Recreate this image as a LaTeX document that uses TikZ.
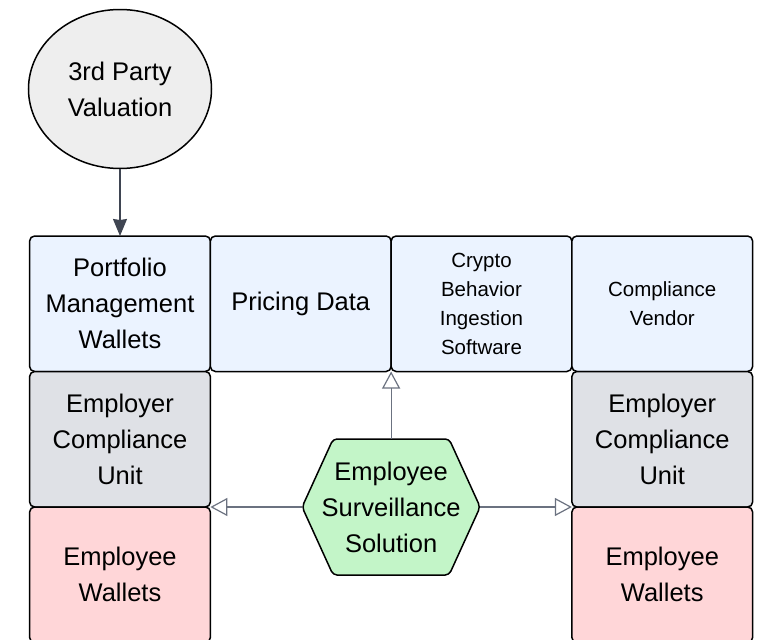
\documentclass[tikz,border=0pt]{standalone}
\usepackage{fontspec}
\setmainfont{Liberation Sans}
\usetikzlibrary{arrows.meta, shapes.geometric, positioning, backgrounds}
\definecolor{recblue}{HTML}{EBF3FF}
\definecolor{recgray}{HTML}{DFE1E6}
\definecolor{recpink}{HTML}{FFD6D8}
\definecolor{hexgreen}{HTML}{C3F5C8}
\definecolor{valgray}{HTML}{EEEEEE}
\definecolor{linegray}{HTML}{6B7280}
\definecolor{headgray}{HTML}{3F4552}
\tikzstyle{rec} = [rectangle, rounded corners=5pt, minimum width=180.75pt, minimum height=135.5pt, text centered, align=center, draw=black, line width=1.5pt, outer sep=0pt, font=\fontsize{25.5}{36}\selectfont]
\tikzstyle{smalltext} = [font=\fontsize{20.5}{29}\selectfont]
\tikzstyle{arrow} = [line width=1.2pt, draw=linegray, -{Triangle[open, length=17pt, width=18pt]}]
\tikzstyle{darrow} = [line width=1.2pt, draw=headgray, -{Stealth[length=17pt, width=14pt, inset=1pt]}]
\tikzstyle{valuation} = [ellipse, minimum width=183pt, minimum height=159pt, text centered, align=center, draw=black, line width=1.5pt, fill=valgray, outer sep=0pt, font=\fontsize{25.5}{36}\selectfont]
\tikzstyle{hexnode} = [rectangle, minimum width=178pt, minimum height=136pt, inner sep=0pt, outer sep=0pt, align=center, font=\fontsize{25.5}{36}\selectfont]
\tikzstyle{hexa} = [draw=black, fill=hexgreen, line width=1.5pt, rounded corners=4pt]

\begin{document}
\begin{tikzpicture}[node distance=0pt]
\useasboundingbox (0,0) rectangle (764pt,-640pt);
\node (third_party) [valuation] at (120pt,-89pt) {3rd Party\\Valuation};
\node (portfolio_wallets) [rec, fill=recblue, below=67.5pt of third_party] {Portfolio\\Management\\Wallets};
\node (pricing_data) [rec, fill=recblue, right=of portfolio_wallets] {Pricing Data};
\node (crypto_ingestion) [rec, fill=recblue, smalltext, right=of pricing_data] {Crypto\\Behavior\\Ingestion\\Software};
\node (compliance_vendor) [rec, fill=recblue, smalltext, right=of crypto_ingestion] {Compliance\\Vendor};
\node (employer_unit_left) [rec, fill=recgray, below=of portfolio_wallets] {Employer\\Compliance\\Unit};
\node (employee_wallets_left) [rec, fill=recpink, below=of employer_unit_left] {Employee\\Wallets};
\node (employer_unit_right) [rec, fill=recgray, below=of compliance_vendor] {Employer\\Compliance\\Unit};
\node (employee_wallets_right) [rec, fill=recpink, below=of employer_unit_right] {Employee\\Wallets};
\node (surveillance) [hexnode] at (pricing_data.east |- employer_unit_left.south) {Employee\\Surveillance\\Solution};
\begin{scope}[on background layer]
\draw [hexa] (surveillance.west) -- ([xshift=31pt]surveillance.north west) -- ([xshift=-31pt]surveillance.north east) -- (surveillance.east) -- ([xshift=-31pt]surveillance.south east) -- ([xshift=31pt]surveillance.south west) -- cycle;
\end{scope}
\draw [darrow] (third_party) -- (portfolio_wallets);
\draw [arrow] (surveillance.north) -- (crypto_ingestion.south west);
\draw [arrow] (surveillance.west) -- (employer_unit_left.south east);
\draw [arrow] (surveillance.east) -- (employer_unit_right.south west);
\end{tikzpicture}
\end{document}
